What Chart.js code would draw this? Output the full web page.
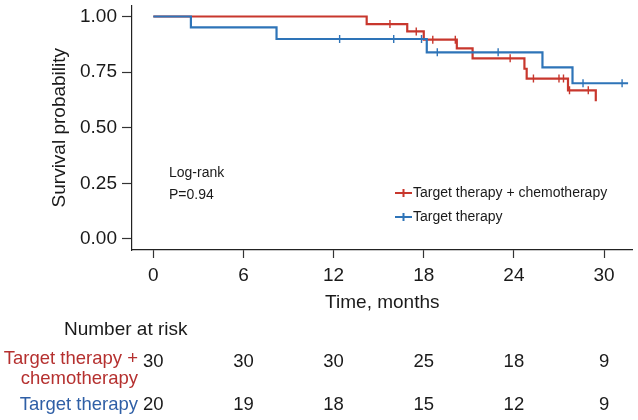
<!DOCTYPE html>
<html>
<head>
<meta charset="utf-8">
<title>Survival curves</title>
<script src="https://cdn.jsdelivr.net/npm/chart.js@4.4.1/dist/chart.umd.min.js"></script>
<style>
  html, body { margin: 0; padding: 0; background: #fff; }
  #wrap { width: 638px; height: 420px; }
</style>
</head>
<body>
<div id="wrap"><canvas id="chart" width="638" height="420"></canvas></div>
<script>
'use strict';

// curve steps (months, survival probability)
let comboTimes = [0, 14.2, 16.9, 18.0, 20.2, 21.25, 24.7, 24.85, 27.6, 29.45];
let comboSurv = [1, 0.966, 0.933, 0.896, 0.857, 0.812, 0.765, 0.721, 0.668, 0.619];
let comboCensor = [15.75, 17.5, 18.6, 20.1, 23.75, 25.3, 27.0, 27.3, 27.7, 28.95];

let targetTimes = [0, 2.5, 8.2, 18.2, 25.9, 27.9, 31.6];
let targetSurv = [1, 0.951, 0.899, 0.839, 0.771, 0.700, 0.700];
let targetCensor = [12.4, 16.0, 17.85, 18.9, 22.95, 28.6, 31.2];

// axes
let xTicks = [0, 6, 12, 18, 24, 30];
let yTicks = [0, 0.25, 0.5, 0.75, 1];

// number at risk table
let riskTimes = [0, 6, 12, 18, 24, 30];
let riskCombo = [30, 30, 30, 25, 18, 9];
let riskTarget = [20, 19, 18, 15, 12, 9];

const RED = '#c8372d';
const BLUE = '#2e74b8';
const RED_TXT = '#b5302f';
const BLUE_TXT = '#2f5fa6';
const INK = '#1a1a1a';
const FONT = '"Liberation Sans", Arial, Helvetica, sans-serif';

// value of a step curve at time t
function survAt(times, surv, t) {
  let s = surv[0];
  for (let i = 0; i < times.length; i++) {
    if (times[i] <= t) s = surv[i];
  }
  return s;
}

function toPoints(times, surv) {
  return times.map((t, i) => ({ x: t, y: surv[i] }));
}

function censorPoints(times, surv, cens) {
  return cens.map(t => ({ x: t, y: survAt(times, surv, t) }));
}

// horizontal first, then drop at the event time
function stepSet(label, pts, color) {
  return {
    type: 'line', label: label, data: pts, stepped: 'before',
    borderColor: color, borderWidth: 2.2, pointRadius: 0, fill: false
  };
}

function censorSet(label, pts, color) {
  return {
    type: 'scatter', label: label, data: pts, showLine: false,
    pointStyle: 'line', rotation: 90, pointRadius: 4,
    borderColor: color, borderWidth: 1.4, backgroundColor: color
  };
}

// legend, annotation, axis titles and the risk table
const extraText = {
  id: 'extraText',
  afterDraw(chart) {
    const ctx = chart.ctx;
    const area = chart.chartArea;
    const xs = chart.scales.x;
    ctx.save();
    ctx.fillStyle = INK;

    // y title
    ctx.save();
    ctx.translate(60, (chart.scales.y.getPixelForValue(1) + chart.scales.y.getPixelForValue(0)) / 2);
    ctx.rotate(-Math.PI / 2);
    ctx.font = '19px ' + FONT;
    ctx.textAlign = 'center';
    ctx.textBaseline = 'middle';
    ctx.fillText('Survival probability', 0, 0);
    ctx.restore();

    // x title
    ctx.font = '19px ' + FONT;
    ctx.textAlign = 'center';
    ctx.textBaseline = 'middle';
    ctx.fillText('Time, months', (area.left + area.right) / 2, 303);

    // log-rank note
    ctx.font = '14px ' + FONT;
    ctx.textAlign = 'left';
    ctx.fillText('Log-rank', 169, 173);
    ctx.fillText('P=0.94', 169, 195);

    // legend
    let legend = [['Target therapy + chemotherapy', RED, 193], ['Target therapy', BLUE, 217]];
    legend.forEach(item => {
      ctx.strokeStyle = item[1];
      ctx.lineWidth = 2;
      ctx.beginPath();
      ctx.moveTo(395, item[2]);
      ctx.lineTo(412, item[2]);
      ctx.moveTo(403.5, item[2] - 4);
      ctx.lineTo(403.5, item[2] + 4);
      ctx.stroke();
      ctx.fillStyle = INK;
      ctx.fillText(item[0], 413, item[2]);
    });

    // risk table
    ctx.font = '19px ' + FONT;
    ctx.textAlign = 'left';
    ctx.fillText('Number at risk', 64, 330);

    ctx.font = '18.5px ' + FONT;
    ctx.textAlign = 'right';
    ctx.fillStyle = RED_TXT;
    ctx.fillText('Target therapy +', 138, 359);
    ctx.fillText('chemotherapy', 138, 379);
    ctx.fillStyle = BLUE_TXT;
    ctx.fillText('Target therapy', 138, 405);

    ctx.fillStyle = INK;
    ctx.textAlign = 'center';
    for (let i = 0; i < riskTimes.length; i++) {
      let px = xs.getPixelForValue(riskTimes[i]);
      ctx.fillText(String(riskCombo[i]), px, 362);
      ctx.fillText(String(riskTarget[i]), px, 405);
    }
    ctx.restore();
  }
};

const ctx = document.getElementById('chart').getContext('2d');

let chartData = {
  data: {
    datasets: [
      stepSet('Target therapy', toPoints(targetTimes, targetSurv), BLUE),
      censorSet('Target therapy censored', censorPoints(targetTimes, targetSurv, targetCensor), BLUE),
      stepSet('Target therapy + chemotherapy', toPoints(comboTimes, comboSurv), RED),
      censorSet('Target therapy + chemotherapy censored', censorPoints(comboTimes, comboSurv, comboCensor), RED)
    ]
  },
  options: {
    responsive: false,
    animation: false,
    devicePixelRatio: 1,
    layout: { padding: { top: 4, right: 0, bottom: 0, left: 0 } },
    plugins: { legend: { display: false }, tooltip: { enabled: false } },
    scales: {
      x: {
        type: 'linear', min: -1.42, max: 31.9,
        afterBuildTicks: s => { s.ticks = xTicks.map(v => ({ value: v })); },
        afterFit: s => { s.height = 170; s.paddingLeft = 0; s.paddingRight = 0; },
        grid: { drawOnChartArea: false, tickLength: 8, color: '#333', tickWidth: 1.2 },
        border: { color: '#222', width: 1.2 },
        ticks: { color: INK, font: { size: 19, family: FONT }, padding: 6 }
      },
      y: {
        type: 'linear', min: -0.05, max: 1.05,
        afterBuildTicks: s => { s.ticks = yTicks.map(v => ({ value: v })); },
        afterFit: s => { s.width = 132; s.paddingTop = 0; s.paddingBottom = 0; },
        grid: { drawOnChartArea: false, tickLength: 10, color: '#333', tickWidth: 1.2 },
        border: { color: '#222', width: 1.2 },
        ticks: { color: INK, font: { size: 19, family: FONT }, padding: 5,
          callback: v => Number(v).toFixed(2) }
      }
    }
  },
  plugins: [extraText]
};

const myChart = new Chart(ctx, chartData); //eslint-disable-line
</script>
</body>
</html>
